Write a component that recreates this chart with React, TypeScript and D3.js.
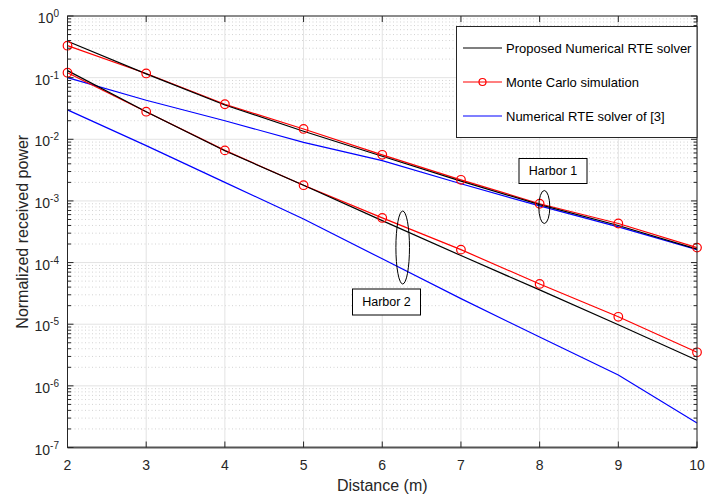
import React, { useEffect, useRef } from 'react';
import * as d3 from 'd3';

const distances = [2, 3, 4, 5, 6, 7, 8, 9, 10];
const xTicks = [2, 3, 4, 5, 6, 7, 8, 9, 10];
const yExponents = [0, -1, -2, -3, -4, -5, -6, -7];

// Harbor 1
const proposedH1 = [0.39, 0.115, 0.036, 0.0135, 0.0053, 0.0021, 0.00087, 0.00040, 0.000165];
const monteCarloH1 = [0.33, 0.117, 0.037, 0.0147, 0.0056, 0.0022, 0.00090, 0.00043, 0.000175];
const priorH1 = [0.1, 0.043, 0.02, 0.0089, 0.0045, 0.0019, 0.00083, 0.00038, 0.000162];

// Harbor 2
const proposedH2 = [0.13, 0.028, 0.0065, 0.0018, 0.00048, 0.00013, 0.000036, 0.0000098, 0.0000026];
const monteCarloH2 = [0.12, 0.028, 0.0066, 0.0018, 0.00053, 0.000162, 0.000045, 0.0000132, 0.0000035];
const priorH2 = [0.03, 0.0079, 0.002, 0.00051, 0.000115, 0.000026, 0.0000062, 0.0000015, 0.00000025];

const legendLabels = ['Proposed Numerical RTE solver', 'Monte Carlo simulation', 'Numerical RTE solver of [3]'];

const App = () => {
  const svgRef = useRef<SVGSVGElement>(null);
  const width = 715;
  const height = 497;
  const margin = { left: 67.5, right: 18, top: 16, bottom: 49.5 };

  useEffect(() => {
    const svg = d3.select(svgRef.current);
    svg.selectAll('*').remove();
    const font = 'Arial, "Liberation Sans", sans-serif';

    const x = d3.scaleLinear().domain([2, 10]).range([margin.left, width - margin.right]);
    const y = d3.scaleLog().domain([1e-7, 1]).range([height - margin.bottom, margin.top]);
    const x0 = margin.left, x1 = width - margin.right;
    const y0 = margin.top, y1 = height - margin.bottom;

    svg.append('rect').attr('x', x0).attr('y', y0).attr('width', x1 - x0).attr('height', y1 - y0).attr('fill', '#fff');

    // minor grid (dotted, horizontal)
    const minor: number[] = [];
    for (let e = -7; e < 0; e++) for (let m = 2; m <= 9; m++) minor.push(m * Math.pow(10, e));
    svg.append('g').selectAll('line').data(minor).enter().append('line')
      .attr('x1', x0).attr('x2', x1)
      .attr('y1', d => y(d)).attr('y2', d => y(d))
      .attr('stroke', '#c8c8c8').attr('stroke-width', 0.8).attr('stroke-dasharray', '1,2.5');

    // major grid
    svg.append('g').selectAll('line').data(yExponents).enter().append('line')
      .attr('x1', x0).attr('x2', x1)
      .attr('y1', d => y(Math.pow(10, d))).attr('y2', d => y(Math.pow(10, d)))
      .attr('stroke', '#e3e3e3').attr('stroke-width', 1);
    svg.append('g').selectAll('line').data(xTicks).enter().append('line')
      .attr('y1', y0).attr('y2', y1)
      .attr('x1', d => x(d)).attr('x2', d => x(d))
      .attr('stroke', '#e3e3e3').attr('stroke-width', 1);

    // series
    const line = d3.line<number>().x((_, i) => x(distances[i])).y(d => y(d));
    const series = [
      { data: priorH2, color: '#0000ff' },
      { data: priorH1, color: '#0000ff' },
      { data: monteCarloH2, color: '#ff0000' },
      { data: monteCarloH1, color: '#ff0000' },
      { data: proposedH2, color: '#000000' },
      { data: proposedH1, color: '#000000' },
    ];
    series.forEach(s => {
      svg.append('path').attr('d', line(s.data)!).attr('fill', 'none')
        .attr('stroke', s.color).attr('stroke-width', 1.2);
    });
    [monteCarloH1, monteCarloH2].forEach(arr => {
      svg.append('g').selectAll('circle').data(arr).enter().append('circle')
        .attr('cx', (_, i) => x(distances[i])).attr('cy', d => y(d)).attr('r', 4.3)
        .attr('fill', 'none').attr('stroke', '#ff0000').attr('stroke-width', 1.2);
    });

    // axes box and ticks
    const axisColor = '#262626';
    svg.append('rect').attr('x', x0).attr('y', y0).attr('width', x1 - x0).attr('height', y1 - y0)
      .attr('fill', 'none').attr('stroke', axisColor).attr('stroke-width', 1);
    svg.append('line').attr('x1', x0).attr('x2', x1).attr('y1', y1).attr('y2', y1)
      .attr('stroke', '#555').attr('stroke-width', 2);

    const tg = svg.append('g').attr('stroke', axisColor).attr('stroke-width', 1);
    xTicks.forEach(t => {
      tg.append('line').attr('x1', x(t)).attr('x2', x(t)).attr('y1', y1).attr('y2', y1 - 6);
      tg.append('line').attr('x1', x(t)).attr('x2', x(t)).attr('y1', y0).attr('y2', y0 + 6);
    });
    yExponents.forEach(e => {
      const yy = y(Math.pow(10, e));
      tg.append('line').attr('x1', x0).attr('x2', x0 + 6).attr('y1', yy).attr('y2', yy);
      tg.append('line').attr('x1', x1).attr('x2', x1 - 6).attr('y1', yy).attr('y2', yy);
    });
    minor.forEach(v => {
      const yy = y(v);
      tg.append('line').attr('x1', x0).attr('x2', x0 + 3.5).attr('y1', yy).attr('y2', yy);
      tg.append('line').attr('x1', x1).attr('x2', x1 - 3.5).attr('y1', yy).attr('y2', yy);
    });

    // tick labels
    svg.append('g').selectAll('text').data(xTicks).enter().append('text')
      .attr('x', d => x(d)).attr('y', y1 + 22)
      .attr('text-anchor', 'middle').attr('font-family', font).attr('font-size', 14)
      .attr('fill', '#262626').text(d => String(d));

    yExponents.forEach(e => {
      const yy = y(Math.pow(10, e));
      const t = svg.append('text').attr('x', 59).attr('y', yy + 7)
        .attr('text-anchor', 'end').attr('font-family', font).attr('font-size', 14).attr('fill', '#262626');
      t.append('tspan').text('10');
      t.append('tspan').attr('dy', -6).attr('font-size', 10).text(String(e));
    });

    // axis titles
    svg.append('text').attr('x', (x0 + x1) / 2).attr('y', 491)
      .attr('text-anchor', 'middle').attr('font-family', font).attr('font-size', 16)
      .attr('fill', '#262626').text('Distance (m)');
    svg.append('text').attr('transform', `translate(28, ${(y0 + y1) / 2}) rotate(-90)`)
      .attr('text-anchor', 'middle').attr('font-family', font).attr('font-size', 16)
      .attr('fill', '#262626').text('Normalized received power');

    // legend
    const lg = svg.append('g');
    lg.append('rect').attr('x', 456.5).attr('y', 26.5).attr('width', 240.5).attr('height', 111)
      .attr('fill', '#fff').attr('stroke', '#262626').attr('stroke-width', 1);
    const legendColors = ['#000000', '#ff0000', '#0000ff'];
    legendLabels.forEach((lab, i) => {
      const ly = 48 + i * 34;
      lg.append('line').attr('x1', 463).attr('x2', 502).attr('y1', ly).attr('y2', ly)
        .attr('stroke', legendColors[i]).attr('stroke-width', 1.2);
      if (i === 1) {
        lg.append('circle').attr('cx', 482.5).attr('cy', ly).attr('r', 3.5)
          .attr('fill', 'none').attr('stroke', '#ff0000').attr('stroke-width', 1.2);
      }
      lg.append('text').attr('x', 506).attr('y', ly + 4.5).attr('font-family', font)
        .attr('font-size', 13).attr('fill', '#000').text(lab);
    });

    // annotations
    const ann = [
      { label: 'Harbor 1', bx: 519, by: 158.5, bw: 68, bh: 25, ex: 544.3, ey: 207, rx: 5.5, ry: 16.5 },
      { label: 'Harbor 2', bx: 352.5, by: 289, bw: 68, bh: 26, ex: 402.7, ey: 247.5, rx: 6.8, ry: 36.5 },
    ];
    ann.forEach(a => {
      svg.append('ellipse').attr('cx', a.ex).attr('cy', a.ey).attr('rx', a.rx).attr('ry', a.ry)
        .attr('fill', 'none').attr('stroke', '#000').attr('stroke-width', 1);
      svg.append('rect').attr('x', a.bx).attr('y', a.by).attr('width', a.bw).attr('height', a.bh)
        .attr('fill', '#fff').attr('stroke', '#000').attr('stroke-width', 1);
      svg.append('text').attr('x', a.bx + a.bw / 2).attr('y', a.by + a.bh / 2 + 4)
        .attr('text-anchor', 'middle').attr('font-family', font).attr('font-size', 12.5)
        .attr('fill', '#000').text(a.label);
    });
  }, []);

  return (
    <svg ref={svgRef} width={width} height={height}
      style={{ position: 'absolute', left: 0, top: 0, background: '#fff' }} />
  );
};

export default App;
